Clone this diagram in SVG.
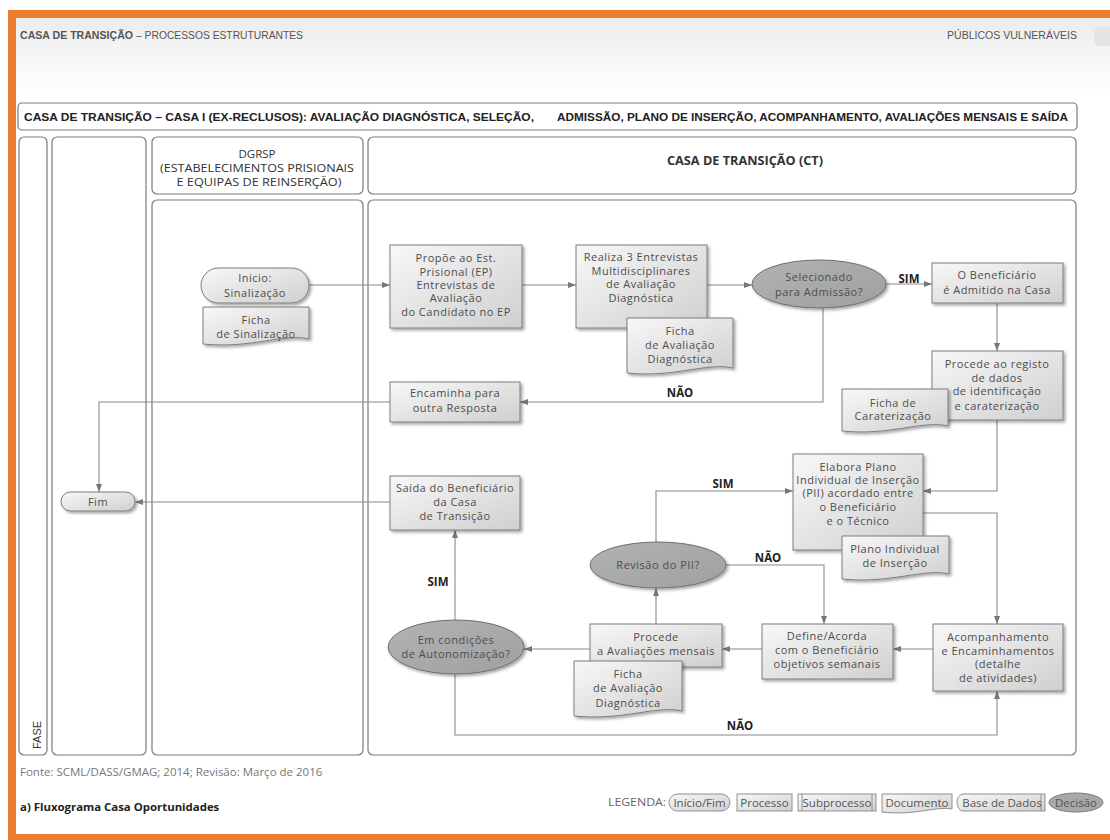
<svg xmlns="http://www.w3.org/2000/svg" width="1110" height="840" viewBox="0 0 1110 840">
<defs>
<linearGradient id="hdr" x1="0" y1="0" x2="0" y2="1"><stop offset="0" stop-color="#ececec"/><stop offset="1" stop-color="#ffffff"/></linearGradient>
<linearGradient id="g" x1="0" y1="0" x2="1" y2="1"><stop offset="0" stop-color="#f8f8f8"/><stop offset="1" stop-color="#cfcfcf"/></linearGradient>
<linearGradient id="gd" x1="0" y1="0" x2="1" y2="1"><stop offset="0" stop-color="#b2b2b2"/><stop offset="1" stop-color="#a0a0a0"/></linearGradient>
<filter id="sh" x="-10%" y="-10%" width="130%" height="130%"><feDropShadow dx="2" dy="2" stdDeviation="1.4" flood-color="#000" flood-opacity="0.35"/></filter>
<marker id="arr" viewBox="0 0 8 6" refX="8" refY="3" markerWidth="8" markerHeight="6" markerUnits="userSpaceOnUse" orient="auto"><path d="M0,0 L8,3 L0,6 Z" fill="#777"/></marker>
<style>
.lane{fill:#fff;stroke:#7a7a7a;stroke-width:1.2}
.proc{fill:url(#g);stroke:#7d7d7d;stroke-width:1;filter:url(#sh)}
.dec{fill:url(#gd);stroke:#6e6e6e;stroke-width:1;filter:url(#sh)}
.t{font-family:"Open Sans",Lato,"Liberation Sans",sans-serif;font-size:11px;letter-spacing:0.5px;fill:#4d4d4d;text-anchor:middle}
.h{font-family:"Open Sans",Lato,"Liberation Sans",sans-serif;font-size:11.5px;fill:#333;text-anchor:middle}
.lbl{font-family:"Open Sans",Lato,"Liberation Sans",sans-serif;font-weight:bold;font-size:11.5px;fill:#222;text-anchor:middle}
.c{fill:none;stroke:#8a8a8a;stroke-width:1.1;marker-end:url(#arr)}
.lg{fill:url(#g);stroke:#8f8f8f;stroke-width:1}
.lt{font-family:"Open Sans",Lato,"Liberation Sans",sans-serif;font-size:11.5px;fill:#555;text-anchor:middle}
.top{font-family:"Liberation Sans",Arial,sans-serif;font-size:10px;fill:#555}
</style>
</defs>
<rect x="0" y="0" width="1110" height="840" fill="#fff"/>
<rect x="16" y="18" width="1094" height="78" fill="url(#hdr)"/>
<rect x="8" y="10" width="1102" height="8" fill="#ed7d31"/>
<rect x="8" y="10" width="8" height="830" fill="#ed7d31"/>
<rect x="8" y="834" width="1102" height="6" fill="#ed7d31"/>
<rect x="1094" y="27" width="20" height="19" rx="6" fill="#e4e4e4"/>
<text class="top" x="20" y="39" font-weight="bold" fill="#333" textLength="113" lengthAdjust="spacingAndGlyphs">CASA DE TRANSIÇÃO</text>
<text class="top" x="136" y="39" textLength="167" lengthAdjust="spacingAndGlyphs">– PROCESSOS ESTRUTURANTES</text>
<text class="top" x="947" y="39" textLength="130" lengthAdjust="spacingAndGlyphs">PÚBLICOS VULNERÁVEIS</text>

<g id="title">
<rect x="18" y="103" width="1059" height="27" rx="4" fill="#fff" stroke="#7a7a7a" stroke-width="1.2"/>
<text x="24" y="121" font-family="'Liberation Sans',Arial,sans-serif" font-size="11" font-weight="bold" fill="#222" textLength="510" lengthAdjust="spacingAndGlyphs">CASA DE TRANSIÇÃO – CASA I (EX-RECLUSOS): AVALIAÇÃO DIAGNÓSTICA, SELEÇÃO,</text>
<text x="557" y="121" font-family="'Liberation Sans',Arial,sans-serif" font-size="11" font-weight="bold" fill="#222" textLength="511" lengthAdjust="spacingAndGlyphs">ADMISSÃO, PLANO DE INSERÇÃO, ACOMPANHAMENTO, AVALIAÇÕES MENSAIS E SAÍDA</text>
</g>

<g id="lanes">
<rect class="lane" x="19" y="137" width="28" height="618" rx="5"/>
<text x="0" y="0" transform="translate(41,749) rotate(-90)" font-family="'Liberation Sans',Arial,sans-serif" font-size="11" fill="#333">FASE</text>
<rect class="lane" x="52" y="137" width="94" height="618" rx="5"/>
<rect class="lane" x="152" y="137" width="211" height="57" rx="5"/>
<text class="h" x="257" y="158">DGRSP</text>
<text class="h" x="257" y="172" textLength="194" lengthAdjust="spacingAndGlyphs">(ESTABELECIMENTOS PRISIONAIS</text>
<text class="h" x="259" y="186" textLength="165" lengthAdjust="spacingAndGlyphs">E EQUIPAS DE REINSERÇÃO)</text>
<rect class="lane" x="152" y="200" width="211" height="555" rx="5"/>
<rect class="lane" x="368" y="137" width="708" height="57" rx="5"/>
<text class="h" x="745" y="165" font-weight="bold" fill="#222" textLength="156" lengthAdjust="spacingAndGlyphs">CASA DE TRANSIÇÃO (CT)</text>
<rect class="lane" x="368" y="200" width="708" height="555" rx="5"/>
</g>

<g id="connectors">
<path class="c" d="M309,285 H390"/>
<path class="c" d="M522,285 H576"/>
<path class="c" d="M707,285 H752"/>
<path class="c" d="M886,284 H932"/>
<path class="c" d="M823,308 V402 H520"/>
<path class="c" d="M390,402 H99 V492"/>
<path class="c" d="M997,303 V351"/>
<path class="c" d="M997,420 V491 H923"/>
<path class="c" d="M923,513 H997 V624"/>
<path class="c" d="M933,649 H893"/>
<path class="c" d="M762,649 H722"/>
<path class="c" d="M590,649 H524"/>
<path class="c" d="M656,624 V588"/>
<path class="c" d="M656,542 V491 H793"/>
<path class="c" d="M726,565 H824 V624"/>
<path class="c" d="M455,620 V530"/>
<path class="c" d="M455,674 V735 H997 V691"/>
<path class="c" d="M390,502 H135"/>
<text class="lbl" x="909" y="283">SIM</text>
<text class="lbl" x="680" y="397">NÃO</text>
<text class="lbl" x="723" y="488">SIM</text>
<text class="lbl" x="768" y="562">NÃO</text>
<text class="lbl" x="438" y="586">SIM</text>
<text class="lbl" x="740" y="730">NÃO</text>
</g>

<g id="inicio"><rect class="proc" x="201" y="268" width="108" height="35" rx="17.5"/><text class="t"><tspan x="255" y="282">Início:</tspan><tspan x="255" y="297">Sinalização</tspan></text></g>
<g id="ficha-sinalizacao"><path class="proc" d="M203,307 H309 V339 C283,333 251,349 203,344 Z"/><text class="t"><tspan x="256" y="324">Ficha</tspan><tspan x="256" y="338">de Sinalização</tspan></text></g>
<g id="propoe"><rect class="proc" x="390" y="245" width="132" height="83"/><text class="t"><tspan x="456" y="262">Propõe ao Est.</tspan><tspan x="456" y="276">Prisional (EP)</tspan><tspan x="456" y="289">Entrevistas de</tspan><tspan x="456" y="302">Avaliação</tspan><tspan x="456" y="316">do Candidato no EP</tspan></text></g>
<g id="realiza"><rect class="proc" x="576" y="245" width="131" height="83"/><text class="t"><tspan x="641" y="261">Realiza 3 Entrevistas</tspan><tspan x="641" y="274.5">Multidisciplinares</tspan><tspan x="641" y="288">de Avaliação</tspan><tspan x="641" y="301.5">Diagnóstica</tspan></text></g>
<g id="ficha-aval-1"><path class="proc" d="M627,318 H733 V368 C707,362 675,378 627,373 Z"/><text class="t"><tspan x="680" y="335">Ficha</tspan><tspan x="680" y="349">de Avaliação</tspan><tspan x="680" y="363">Diagnóstica</tspan></text></g>
<g id="selecionado"><ellipse class="dec" cx="819" cy="284" rx="67" ry="24"/><text class="t" fill="#333"><tspan x="819" y="281">Selecionado</tspan><tspan x="819" y="296">para Admissão?</tspan></text></g>
<g id="admitido"><rect class="proc" x="932" y="263" width="131" height="40"/><text class="t"><tspan x="997" y="279">O Beneficiário</tspan><tspan x="997" y="294">é Admitido na Casa</tspan></text></g>
<g id="registo"><rect class="proc" x="932" y="351" width="131" height="69"/><text class="t"><tspan x="997" y="368">Procede ao registo</tspan><tspan x="997" y="382">de dados</tspan><tspan x="997" y="395">de identificação</tspan><tspan x="997" y="410">e caraterização</tspan></text></g>
<g id="ficha-caraterizacao"><path class="proc" d="M842,389 H948 V426 C922,420 890,436 842,431 Z"/><text class="t"><tspan x="893" y="407">Ficha de</tspan><tspan x="893" y="420">Caraterização</tspan></text></g>
<g id="encaminha"><rect class="proc" x="390" y="382" width="130" height="40"/><text class="t"><tspan x="455" y="397">Encaminha para</tspan><tspan x="455" y="412">outra Resposta</tspan></text></g>
<g id="saida"><rect class="proc" x="390" y="476" width="130" height="54"/><text class="t"><tspan x="455" y="492">Saída do Beneficiário</tspan><tspan x="455" y="506">da Casa</tspan><tspan x="455" y="520">de Transição</tspan></text></g>
<g id="fim"><rect class="proc" x="61" y="492" width="74" height="19" rx="9.5"/><text class="t" x="98" y="506" fill="#5c4a66">Fim</text></g>
<g id="elabora"><rect class="proc" x="793" y="454" width="130" height="96"/><text class="t"><tspan x="858" y="471">Elabora Plano</tspan><tspan x="858" y="484">Individual de Inserção</tspan><tspan x="858" y="497">(PII) acordado entre</tspan><tspan x="858" y="511">o Beneficiário</tspan><tspan x="858" y="525">e o Técnico</tspan></text></g>
<g id="plano-individual"><path class="proc" d="M842,536 H949 V574 C923,568 891,584 842,579 Z"/><text class="t"><tspan x="895" y="553">Plano Individual</tspan><tspan x="895" y="567">de Inserção</tspan></text></g>
<g id="revisao"><ellipse class="dec" cx="658" cy="565" rx="68" ry="23"/><text class="t" fill="#333" x="658" y="569">Revisão do PII?</text></g>
<g id="define"><rect class="proc" x="762" y="624" width="131" height="55"/><text class="t"><tspan x="827" y="640">Define/Acorda</tspan><tspan x="827" y="654">com o Beneficiário</tspan><tspan x="827" y="668">objetivos semanais</tspan></text></g>
<g id="acompanhamento"><rect class="proc" x="933" y="624" width="130" height="67"/><text class="t"><tspan x="998" y="641">Acompanhamento</tspan><tspan x="998" y="655">e Encaminhamentos</tspan><tspan x="998" y="668">(detalhe</tspan><tspan x="998" y="682">de atividades)</tspan></text></g>
<g id="avaliacoes"><rect class="proc" x="590" y="624" width="132" height="43"/><text class="t"><tspan x="656" y="641">Procede</tspan><tspan x="656" y="655">a Avaliações mensais</tspan></text></g>
<g id="ficha-aval-2"><path class="proc" d="M574,661 H682 V711 C656,705 623,721 574,716 Z"/><text class="t"><tspan x="628" y="678">Ficha</tspan><tspan x="628" y="692">de Avaliação</tspan><tspan x="628" y="707">Diagnóstica</tspan></text></g>
<g id="autonomizacao"><ellipse class="dec" cx="456" cy="647" rx="68" ry="27"/><text class="t" fill="#333"><tspan x="456" y="644">Em condições</tspan><tspan x="456" y="658">de Autonomização?</tspan></text></g>

<text x="20" y="776" font-family="'Open Sans',Lato,sans-serif" font-size="11.5" fill="#777">Fonte: SCML/DASS/GMAG; 2014; Revisão: Março de 2016</text>
<text x="20" y="811" font-family="'Open Sans',Lato,sans-serif" font-size="11.4" font-weight="bold" fill="#222">a) Fluxograma Casa Oportunidades</text>

<g id="legenda">
<text x="608" y="806" font-family="'Open Sans',Lato,sans-serif" font-size="11" fill="#666" textLength="58" lengthAdjust="spacingAndGlyphs">LEGENDA:</text>
<rect class="lg" x="669" y="794" width="61" height="17" rx="8.5"/><text class="lt" x="699.5" y="806.5">Início/Fim</text>
<rect class="lg" x="737" y="794" width="55" height="17"/><text class="lt" x="764.5" y="806.5">Processo</text>
<rect class="lg" x="798" y="794" width="78" height="17"/><path d="M802,794 V811 M872,794 V811" stroke="#8f8f8f" fill="none"/><text class="lt" x="837" y="806.5">Subprocesso</text>
<path class="lg" d="M882,794 H952 V809 C935,806 914,816 882,812 Z"/><text class="lt" x="917" y="806.5">Documento</text>
<path class="lg" d="M963,794 H1045 V811 H963 A6,8.5 0 0 1 963,794 Z"/><path d="M1041,794 V811" stroke="#8f8f8f" fill="none"/><text class="lt" x="1002" y="806.5">Base de Dados</text>
<ellipse cx="1076" cy="802.5" rx="27" ry="9.5" fill="#a8a8a8" stroke="#7a7a7a"/><text class="lt" x="1076" y="806.5" fill="#333">Decisão</text>
</g>
</svg>
